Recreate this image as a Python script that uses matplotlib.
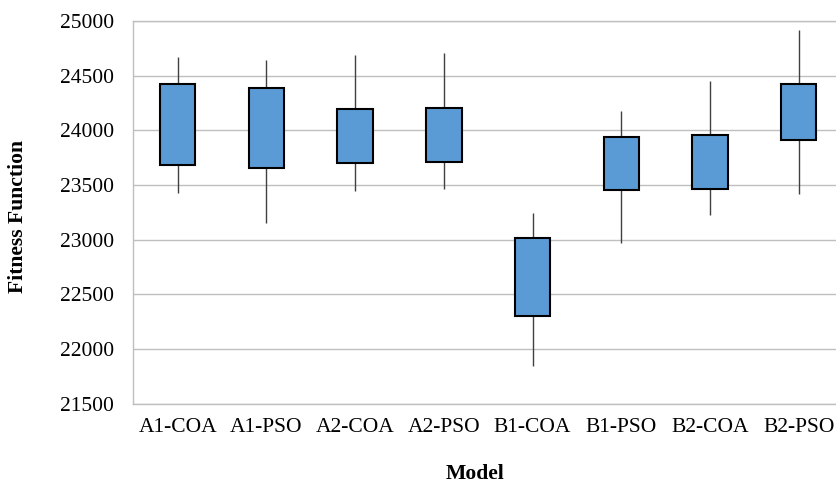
import numpy as np
import matplotlib as mpl

mpl.use('Agg')

import matplotlib.pyplot as plt
import matplotlib.ticker as ticker

# 数据
models = ["A1-COA", "A1-PSO", "A2-COA", "A2-PSO",
          "B1-COA", "B1-PSO", "B2-COA", "B2-PSO"]
high_vals = [24666, 24639, 24687, 24703, 23243, 24176, 24447, 24918]
box_top = [24420, 24389, 24197, 24203, 23015, 23936, 23957, 24420]
box_bottom = [23686, 23653, 23699, 23708, 22308, 23453, 23467, 23914]
low_vals = [23431, 23157, 23449, 23462, 21849, 22969, 23224, 23419]

plt.rcParams['font.family'] = ['Liberation Serif', 'DejaVu Serif']

grid_color = "#BFBFBF"

fig = plt.figure(figsize=(8.36, 4.83), dpi=100)
ax = fig.add_axes([0.1595, 0.1636, 0.849, 0.7934])

x = np.arange(len(models))

# 最高-最低竖线
ax.vlines(x, low_vals, high_vals, color="#404040", lw=1.0, zorder=2)

# 方框（Excel 股价图样式）
heights = np.array(box_top) - np.array(box_bottom)
ax.bar(x, heights, bottom=box_bottom, width=0.4,
       color="#5B9BD5", edgecolor="black", linewidth=1.5, zorder=3)

ax.set_xlim(-0.5, len(models) - 0.5)
ax.set_ylim(21500, 25000)
ax.yaxis.set_major_locator(ticker.MultipleLocator(500))
ax.set_xticks(x)
ax.set_xticklabels(models)

ax.grid(axis="y", color=grid_color, lw=1.0, zorder=0)
ax.set_axisbelow(True)
for side in ["left", "bottom", "top"]:
    ax.spines[side].set_color(grid_color)
    ax.spines[side].set_linewidth(1.0)
ax.spines["right"].set_visible(False)

ax.tick_params(axis="both", length=0, labelsize=15.5)
ax.tick_params(axis="y", pad=14)
ax.tick_params(axis="x", pad=10)

fig.text(0.022, 0.552, "Fitness Function", rotation=90, ha="center", va="center",
         fontsize=15.6, fontweight="bold")
fig.text(0.568, 0.018, "Model", ha="center", va="center",
         fontsize=15.6, fontweight="bold")

fig.savefig("out.png", dpi=100)
plt.close(fig)
